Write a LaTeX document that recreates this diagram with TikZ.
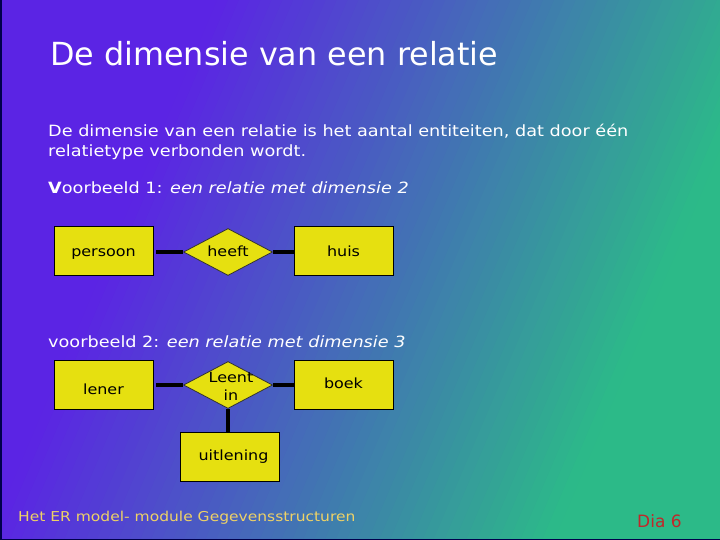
\documentclass[tikz,border=0pt]{standalone}
\usepackage{fontspec}
\setmainfont{DejaVu Sans}
\newfontfamily\widefont{DejaVu Sans}[FakeStretch=1.14]
\usetikzlibrary{shapes.geometric}
\definecolor{bgpurple}{HTML}{5B24E4}
\definecolor{bggreen}{HTML}{2CBA88}
\definecolor{boxyellow}{HTML}{E6E010}
\definecolor{footyellow}{HTML}{EED266}
\definecolor{diared}{HTML}{C0282A}
\tikzset{
  ent/.style={draw=black, line width=0.8pt, fill=boxyellow, minimum width=99pt, minimum height=49pt, inner sep=0pt, text depth=0pt, text height=11pt, font=\widefont\fontsize{14}{16}\selectfont},
  rel/.style={diamond, draw=black!80, line width=0.8pt, fill=boxyellow, minimum width=89pt, minimum height=47pt, inner sep=0pt, aspect=1.9, font=\widefont\fontsize{14}{18}\selectfont},
  conn/.style={line width=4pt, black},
  bodytext/.style={white, anchor=base west, inner sep=0pt, font=\widefont\fontsize{15.5}{19}\selectfont},
}
\begin{document}
\begin{tikzpicture}[x=1pt,y=-1pt]
\useasboundingbox (0,0) rectangle (720,540);
\begin{scope}
\clip (0,0) rectangle (720,540);
\fill[bgpurple] (-10,-10) rectangle (730,550);
\begin{scope}[rotate=-23]
\fill[bggreen] (720,-400) rectangle (1300,800);
\foreach \i in {0,...,51} {
  \pgfmathsetmacro\p{100*(\i+0.5)/52}
  \fill[bggreen!\p!bgpurple] ({200+10*\i},-400) rectangle ({211+10*\i},800);
}
\end{scope}
\end{scope}
\draw[line width=1.5pt, black!70!blue] (0.75,0) -- (0.75,539.25) -- (720,539.25);

% title
\node[white, anchor=base west, inner sep=0pt, font=\fontsize{31.8}{37}\selectfont] (title) at (50,66) {De dimensie van een relatie};

% body
\node[bodytext] (l1) at (48,137) {De dimensie van een relatie is het aantal entiteiten, dat door één};
\node[bodytext] (l2) at (48,157) {relatietype verbonden wordt.};
\node[bodytext] (ex1) at (48,194) {\textbf{V}oorbeeld 1: \textit{een relatie met dimensie 2}};
\node[bodytext] (ex2) at (48,347) {voorbeeld 2: \textit{een relatie met dimensie 3}};

% example 1
\node[ent] (persoon) at (103.5,250.5) {persoon\hspace{10pt}};
\node[rel, text height=8pt, text depth=0pt] (heeft) at (228,252) {heeft};
\node[ent] (huis) at (343.5,250.5) {huis\hspace{16pt}};
\draw[conn] (persoon.east |- heeft.west) ++(3,0) -- (heeft.west);
\draw[conn] (heeft.east) -- (huis.west |- heeft.east);

% example 2
\node[ent, text height=19pt] (lener) at (103.5,384.5) {lener};
\node[rel] (leent) at (228,385) {\makebox[0pt]{\hspace{6pt}\raisebox{-15pt}[0pt][0pt]{\parbox[b]{50pt}{\centering Leent\\in}}}};
\node[ent, text height=8pt] (boek) at (343.5,384.5) {boek\hspace{9pt}};
\node[ent, text height=8pt] (uitlening) at (229.5,456.5) {\hspace{8pt}uitlening};
\draw[conn] (lener.east |- leent.west) ++(3,0) -- (leent.west);
\draw[conn] (leent.east) -- (boek.west |- leent.east);
\draw[conn] (leent.south) -- (uitlening.north -| leent.south);

% footer
\node[footyellow, anchor=base west, inner sep=0pt, font=\widefont\fontsize{13.6}{16}\selectfont] (footer) at (18,521) {Het ER model- module Gegevensstructuren};
\node[diared, anchor=base west, inner sep=0pt, font=\fontsize{17}{19}\selectfont] (dia) at (637,527) {Dia 6};
\end{tikzpicture}
\end{document}
